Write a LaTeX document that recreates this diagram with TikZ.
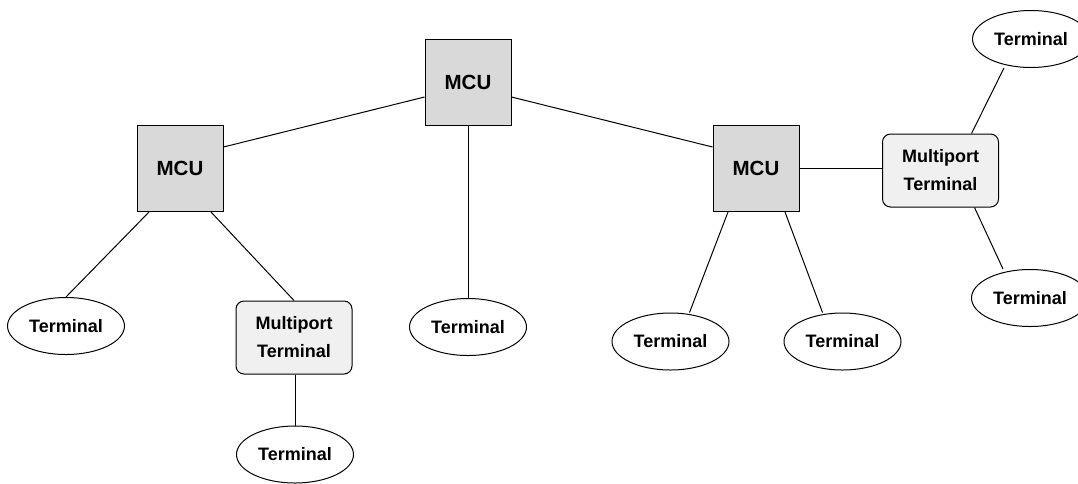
\documentclass[tikz,border=0pt]{standalone}
\usepackage{fontspec}
\setmainfont{Liberation Sans}
\usetikzlibrary{shapes.geometric}
\definecolor{mcugray}{HTML}{D9D9D9}
\definecolor{mportgray}{HTML}{F0F0F0}
\begin{document}
\begin{tikzpicture}[x=1pt,y=-1pt,
  every node/.style={font=\bfseries\fontsize{18}{28}\selectfont},
  mcu/.style={draw, fill=mcugray, line width=1pt, minimum width=86pt, minimum height=86pt,
    inner sep=0pt, font=\bfseries\fontsize{20.5}{24}\selectfont},
  mport/.style={draw, fill=mportgray, line width=1pt, rounded corners=8pt, minimum width=116pt,
    minimum height=73pt, align=center, inner sep=0pt},
  term/.style={draw, ellipse, fill=white, line width=1pt, minimum width=117pt, minimum height=57pt, inner sep=0pt},
  link/.style={line width=1pt}]
\useasboundingbox[fill=white] (0,0) rectangle (1078,483);

% MCUs
\node[mcu] (mcuT) at (468,82.5) {MCU};
\node[mcu] (mcuL) at (180,168.5) {MCU};
\node[mcu] (mcuR) at (756,168.5) {MCU};

% multiport terminals
\node[mport] (mpL) at (294,337.5) {Multiport\\Terminal};
\node[mport] (mpR) at (940.5,170.5) {Multiport\\Terminal};

% terminals
\node[term] (t1) at (66,326) {Terminal};
\node[term] (t2) at (295,454.5) {Terminal};
\node[term] (t3) at (468,327) {Terminal};
\node[term] (t4) at (670.5,341.5) {Terminal};
\node[term] (t5) at (842.5,341.5) {Terminal};
\node[term] (t6) at (1031,39) {Terminal};
\node[term] (t7) at (1030,298) {Terminal};

% links
\draw[link] ([yshift=21.5pt]mcuL.east) -- ([yshift=-14.5pt]mcuT.west);
\draw[link] ([yshift=-14.5pt]mcuT.east) -- ([yshift=21.5pt]mcuR.west);
\draw[link] (mcuT.south) -- (t3.north);
\draw[link] ([xshift=-31pt]mcuL.south) -- (t1.north);
\draw[link] ([xshift=31pt]mcuL.south) -- (mpL.north);
\draw[link] (mpL.south -| t2.north) -- (t2.north);
\draw[link] ([xshift=-28pt]mcuR.south) -- ([xshift=19pt]t4.north);
\draw[link] ([xshift=29pt]mcuR.south) -- ([xshift=-20pt]t5.north);
\draw[link] (mcuR.east) -- (mcuR.east -| mpR.west);
\draw[link] ([xshift=31pt]mpR.north) -- ([xshift=-27pt]t6.south);
\draw[link] ([xshift=34pt]mpR.south) -- ([xshift=-27pt]t7.north);
\end{tikzpicture}
\end{document}
